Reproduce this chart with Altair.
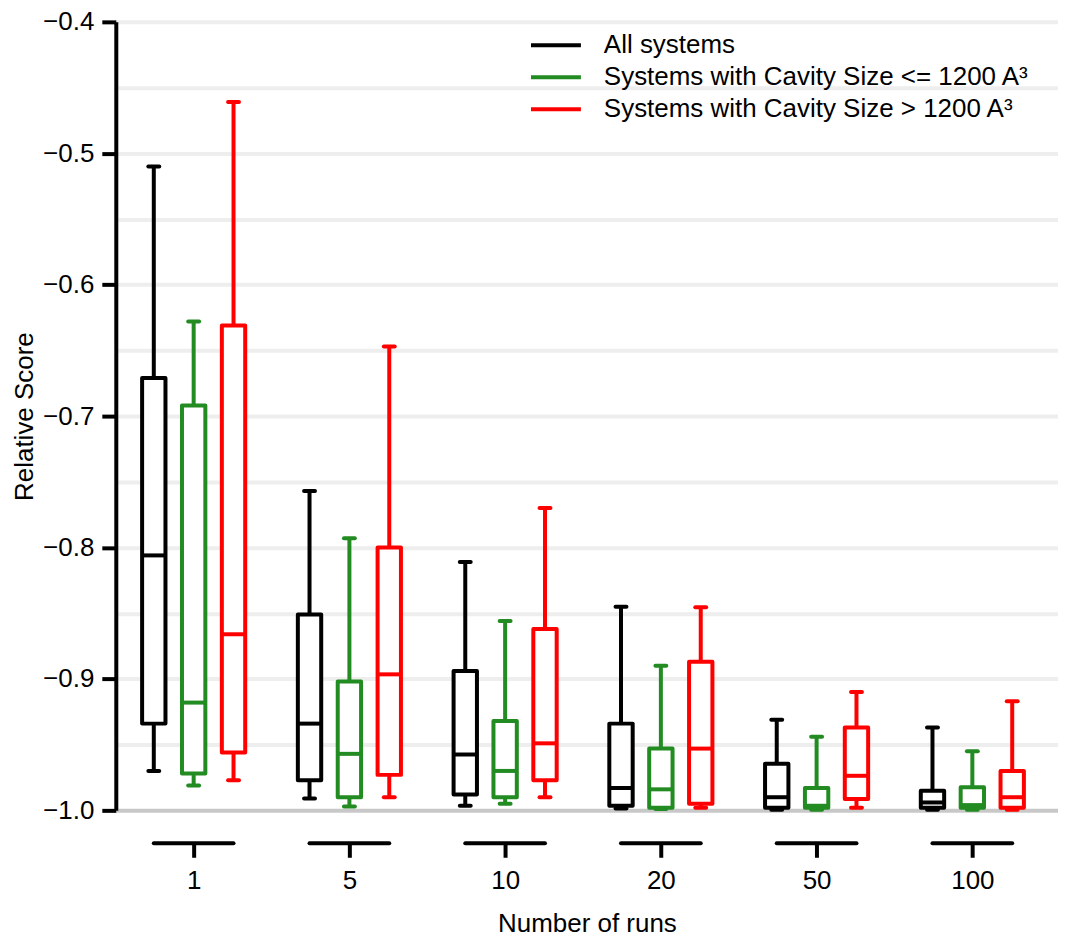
import json
import altair as alt
import pandas as pd

# ---- data ----
runs = ["1", "5", "10", "20", "50", "100"]
series = [
    "All systems",
    "Systems with Cavity Size <= 1200 A³",
    "Systems with Cavity Size > 1200 A³",
]
series_colors = ["#000000", "#228b22", "#ff0000"]

all_low = [-0.970, -0.991, -0.9965, -0.9985, -0.9995, -0.9995]
all_q1 = [-0.934, -0.977, -0.988, -0.9965, -0.998, -0.998]
all_med = [-0.806, -0.934, -0.9575, -0.983, -0.990, -0.994]
all_q3 = [-0.671, -0.851, -0.894, -0.934, -0.9645, -0.985]
all_high = [-0.510, -0.757, -0.811, -0.845, -0.931, -0.937]

small_low = [-0.981, -0.997, -0.995, -0.999, -0.9995, -0.9995]
small_q1 = [-0.972, -0.990, -0.990, -0.998, -0.998, -0.998]
small_med = [-0.918, -0.957, -0.970, -0.984, -0.9965, -0.996]
small_q3 = [-0.692, -0.902, -0.932, -0.953, -0.983, -0.9825]
small_high = [-0.628, -0.793, -0.856, -0.890, -0.944, -0.955]

large_low = [-0.977, -0.990, -0.990, -0.998, -0.998, -0.9995]
large_q1 = [-0.956, -0.973, -0.977, -0.995, -0.9913, -0.998]
large_med = [-0.866, -0.8965, -0.949, -0.953, -0.9737, -0.990]
large_q3 = [-0.631, -0.800, -0.862, -0.887, -0.937, -0.970]
large_high = [-0.461, -0.647, -0.770, -0.8455, -0.910, -0.917]

y_grid = [-1.0, -0.95, -0.9, -0.85, -0.8, -0.75, -0.7, -0.65, -0.6, -0.55, -0.5, -0.45, -0.4]

stats = {
    series[0]: (all_low, all_q1, all_med, all_q3, all_high),
    series[1]: (small_low, small_q1, small_med, small_q3, small_high),
    series[2]: (large_low, large_q1, large_med, large_q3, large_high),
}

rows = []
for si, name in enumerate(series):
    lo, q1, med, q3, hi = stats[name]
    for ri, r in enumerate(runs):
        rows.append({"series": name, "sidx": si, "run": r, "ridx": ri,
                     "lo": lo[ri], "q1": q1[ri], "med": med[ri], "q3": q3[ri], "hi": hi[ri]})
df = pd.DataFrame(rows)
runs_df = pd.DataFrame({"run": runs, "ridx": list(range(len(runs)))})

# ---- layout constants ----
GROUP_STEP = 0.256
BOX_HALF = 0.075
CAP_HALF = 0.035
SEG_HALF = 0.256
W, H = 944, 790
FS = 26

xscale = alt.Scale(domain=[-0.5, 5.55], nice=False, zero=False)
yscale = alt.Scale(domain=[-1.0, -0.4], nice=False, zero=False)

major_test = "abs(datum.value * 10 - round(datum.value * 10)) < 0.001"

yaxis = alt.Axis(
    values=y_grid,
    format=".1f",
    labelExpr=f"({major_test}) ? datum.label : ''",
    title="Relative Score",
    titleFontSize=FS,
    titleFontWeight="normal",
    titlePadding=5,
    labelFontSize=FS,
    labelPadding=8,
    tickSize=14,
    tickWidth=4,
    tickColor="black",
    tickOpacity={"condition": {"test": major_test, "value": 1}, "value": 0},
    domainColor="black",
    domainWidth=4,
    grid=True,
    gridWidth=4,
    gridColor={"condition": {"test": "datum.value <= -0.999", "value": "#c8c8c8"}, "value": "#eeeeee"},
)

xaxis = alt.Axis(
    values=list(range(len(runs))),
    labelExpr=json.dumps(runs) + "[datum.value]",
    title="Number of runs",
    titleFontSize=FS,
    titleFontWeight="normal",
    titlePadding=17,
    labelFontSize=FS,
    labelPadding=10,
    offset=33,
    domain=False,
    grid=False,
    tickSize=14,
    tickWidth=4,
    tickColor="black",
)

color_legend = alt.Legend(
    title=None,
    orient="none",
    legendX=414,
    legendY=9,
    symbolType="M-1,0H3",
    symbolSize=625,
    symbolStrokeWidth=4,
    labelFontSize=FS,
    labelLimit=900,
    labelOffset=46,
    rowPadding=4,
    padding=0,
)

color_scale = alt.Scale(domain=series, range=series_colors)

base = alt.Chart(df).transform_calculate(
    pos=f"datum.ridx + (datum.sidx - 1) * {GROUP_STEP}"
).transform_calculate(
    bl=f"datum.pos - {BOX_HALF}",
    br=f"datum.pos + {BOX_HALF}",
    cl=f"datum.pos - {CAP_HALF}",
    cr=f"datum.pos + {CAP_HALF}",
)

whiskers = base.mark_rule(strokeWidth=4).encode(
    x=alt.X("pos:Q", scale=xscale, axis=xaxis),
    y=alt.Y("lo:Q", scale=yscale, axis=yaxis),
    y2="hi:Q",
    stroke=alt.Stroke("series:N", scale=color_scale, legend=color_legend),
)

cap_hi = base.mark_rule(strokeWidth=4, strokeCap="round").encode(
    x=alt.X("cl:Q", scale=xscale, axis=xaxis),
    x2="cr:Q",
    y=alt.Y("hi:Q", scale=yscale, axis=yaxis),
    stroke=alt.Stroke("series:N", scale=color_scale, legend=color_legend),
)

cap_lo = base.mark_rule(strokeWidth=4, strokeCap="round").encode(
    x=alt.X("cl:Q", scale=xscale, axis=xaxis),
    x2="cr:Q",
    y=alt.Y("lo:Q", scale=yscale, axis=yaxis),
    stroke=alt.Stroke("series:N", scale=color_scale, legend=color_legend),
)

boxes = base.mark_rect(fill="white", strokeWidth=4, strokeJoin="round").encode(
    x=alt.X("bl:Q", scale=xscale, axis=xaxis),
    x2="br:Q",
    y=alt.Y("q1:Q", scale=yscale, axis=yaxis),
    y2="q3:Q",
    stroke=alt.Stroke("series:N", scale=color_scale, legend=color_legend),
)

medians = base.mark_rule(strokeWidth=4).encode(
    x=alt.X("bl:Q", scale=xscale, axis=xaxis),
    x2="br:Q",
    y=alt.Y("med:Q", scale=yscale, axis=yaxis),
    stroke=alt.Stroke("series:N", scale=color_scale, legend=color_legend),
)

segments = alt.Chart(runs_df).transform_calculate(
    sl=f"datum.ridx - {SEG_HALF}",
    sr=f"datum.ridx + {SEG_HALF}",
).mark_rule(strokeWidth=4, strokeCap="round", color="black").encode(
    x=alt.X("sl:Q", scale=xscale, axis=xaxis),
    x2="sr:Q",
    y=alt.value(H + 33),
)

chart = alt.layer(whiskers, cap_hi, cap_lo, boxes, medians, segments).properties(
    width=W,
    height=H,
    autosize=alt.AutoSizeParams(type="none"),
    padding={"left": 108, "top": 13, "right": 0, "bottom": 127},
).configure(
    font="Liberation Sans",
).configure_view(
    stroke=None,
).configure_axis(
    labelColor="black",
    titleColor="black",
).configure_legend(
    labelColor="black",
)

chart.save("out.html", embed_options={"renderer": "svg", "actions": False})
